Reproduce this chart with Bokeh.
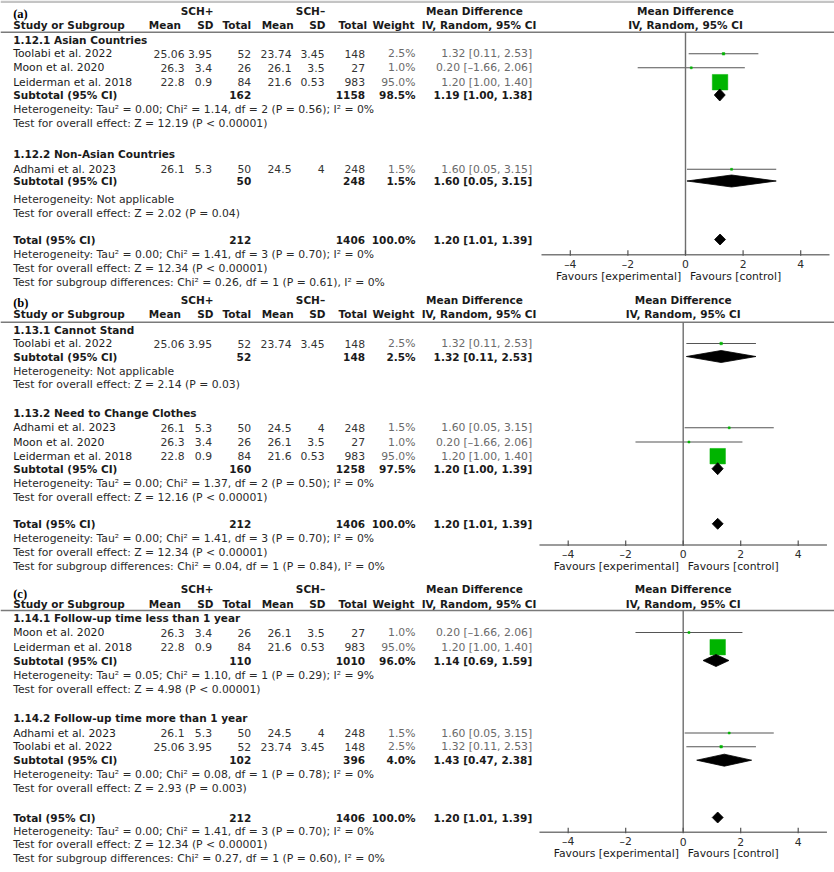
from math import sqrt
from bokeh.plotting import figure
from bokeh.models import Range1d, ColumnDataSource
from bokeh.core.properties import value
from bokeh.embed import file_html
from bokeh.resources import INLINE

# ---------------- data ----------------
study_names = ["Toolabi et al. 2022", "Moon et al. 2020", "Leiderman et al. 2018", "Adhami et al. 2023"]
mean_pos = [25.06, 26.3, 22.8, 26.1]
sd_pos = [3.95, 3.4, 0.9, 5.3]
n_pos = [52, 26, 84, 50]
mean_neg = [23.74, 26.1, 21.6, 24.5]
sd_neg = [3.45, 3.5, 0.53, 4]
n_neg = [148, 27, 983, 248]
weight = [2.5, 1.0, 95.0, 1.5]
md = [1.32, 0.20, 1.20, 1.60]
ci_lo = [0.11, -1.66, 1.00, 0.05]
ci_hi = [2.53, 2.06, 1.40, 3.15]

total_n_pos = 212
total_n_neg = 1406
total_weight = 100.0
total_md, total_lo, total_hi = 1.20, 1.01, 1.39
total_het = "Heterogeneity: Tau² = 0.00; Chi² = 1.41, df = 3 (P = 0.70); I² = 0%"
total_z = "Test for overall effect: Z = 12.34 (P < 0.00001)"

axis_ticks = [-4, -2, 0, 2, 4]
axis_span = [-5, 5]

a_titles = ["1.12.1 Asian Countries", "1.12.2 Non-Asian Countries"]
a_members = [[0, 1, 2], [3]]
a_sub_n_pos = [162, 50]
a_sub_n_neg = [1158, 248]
a_sub_weight = [98.5, 1.5]
a_sub_md = [1.19, 1.60]
a_sub_lo = [1.00, 0.05]
a_sub_hi = [1.38, 3.15]
a_sub_het = ["Heterogeneity: Tau² = 0.00; Chi² = 1.14, df = 2 (P = 0.56); I² = 0%",
             "Heterogeneity: Not applicable"]
a_sub_z = ["Test for overall effect: Z = 12.19 (P < 0.00001)",
           "Test for overall effect: Z = 2.02 (P = 0.04)"]
a_diff = "Test for subgroup differences: Chi² = 0.26, df = 1 (P = 0.61), I² = 0%"

b_titles = ["1.13.1 Cannot Stand", "1.13.2 Need to Change Clothes"]
b_members = [[0], [3, 1, 2]]
b_sub_n_pos = [52, 160]
b_sub_n_neg = [148, 1258]
b_sub_weight = [2.5, 97.5]
b_sub_md = [1.32, 1.20]
b_sub_lo = [0.11, 1.00]
b_sub_hi = [2.53, 1.39]
b_sub_het = ["Heterogeneity: Not applicable",
             "Heterogeneity: Tau² = 0.00; Chi² = 1.37, df = 2 (P = 0.50); I² = 0%"]
b_sub_z = ["Test for overall effect: Z = 2.14 (P = 0.03)",
           "Test for overall effect: Z = 12.16 (P < 0.00001)"]
b_diff = "Test for subgroup differences: Chi² = 0.04, df = 1 (P = 0.84), I² = 0%"

c_titles = ["1.14.1 Follow-up time less than 1 year", "1.14.2 Follow-up time more than 1 year"]
c_members = [[1, 2], [3, 0]]
c_sub_n_pos = [110, 102]
c_sub_n_neg = [1010, 396]
c_sub_weight = [96.0, 4.0]
c_sub_md = [1.14, 1.43]
c_sub_lo = [0.69, 0.47]
c_sub_hi = [1.59, 2.38]
c_sub_het = ["Heterogeneity: Tau² = 0.05; Chi² = 1.10, df = 1 (P = 0.29); I² = 9%",
             "Heterogeneity: Tau² = 0.00; Chi² = 0.08, df = 1 (P = 0.78); I² = 0%"]
c_sub_z = ["Test for overall effect: Z = 4.98 (P < 0.00001)",
           "Test for overall effect: Z = 2.93 (P = 0.003)"]
c_diff = "Test for subgroup differences: Chi² = 0.27, df = 1 (P = 0.60), I² = 0%"

# ---------------- layout (pixel space) ----------------
FONT = "DejaVu Sans"
FS = "10.8px"
FSB = "10.5px"
X_NAME = 12.7
X_MEAN1, X_SD1, X_N1 = 184, 211.5, 250.7
X_MEAN2, X_SD2, X_N2 = 291, 324, 364.5
X_W, X_CI = 415, 531.7
H_MEAN1, H_SD1, H_N1, H_MEAN2, H_SD2, H_N2, H_W = 180.5, 213, 250.7, 293.3, 325, 366.7, 414
X_SCHP, X_SCHN, X_MDHEAD, X_CIHEAD = 196.7, 310, 474, 478.5

layouts = [
    dict(label="(a)", rng="md_a", title_y=13, h1=10.5, h2=24, rule=31.7,
         groups=[dict(hdr=39.3, rows=[53.3, 67.3, 81.7], sub=94.5, het=109, z=123.3),
                 dict(hdr=153.3, rows=[168.8], sub=180.5, het=198.7, z=212.7)],
         total=239, het=254.3, z=268.3, diff=282.3, axis=254.3),
    dict(label="(b)", rng="md_bc", title_y=302.7, h1=299.5, h2=313.8, rule=321.7,
         groups=[dict(hdr=329, rows=[343], sub=356, het=371, z=384.3),
                 dict(hdr=412.7, rows=[427.3, 441.5, 455.7], sub=468.2, het=483, z=497)],
         total=523.3, het=538.3, z=552, diff=566, axis=544.5),
    dict(label="(c)", rng="md_bc", title_y=593.3, h1=588, h2=603.3, rule=610,
         groups=[dict(hdr=617.3, rows=[632, 646.7], sub=660, het=675, z=689),
                 dict(hdr=717.3, rows=[732.5, 746.2], sub=759.7, het=774.3, z=788.3)],
         total=817, het=831, z=844.3, diff=858.3, axis=831.7),
]
panels = [
    (a_titles, a_members, a_sub_n_pos, a_sub_n_neg, a_sub_weight, a_sub_md, a_sub_lo, a_sub_hi, a_sub_het, a_sub_z, a_diff),
    (b_titles, b_members, b_sub_n_pos, b_sub_n_neg, b_sub_weight, b_sub_md, b_sub_lo, b_sub_hi, b_sub_het, b_sub_z, b_diff),
    (c_titles, c_members, c_sub_n_pos, c_sub_n_neg, c_sub_weight, c_sub_md, c_sub_lo, c_sub_hi, c_sub_het, c_sub_z, c_diff),
]

W, H = 834, 872
p = figure(width=W, height=H, output_backend="svg", toolbar_location=None,
           x_range=Range1d(0, W), y_range=Range1d(H, 0),
           x_axis_type=None, y_axis_type=None, min_border=0)
p.extra_x_ranges = {
    "md_a": Range1d((0 - 685.0) / 28.8, (W - 685.0) / 28.8),
    "md_bc": Range1d((0 - 682.7) / 28.75, (W - 682.7) / 28.75),
}
p.grid.visible = False
p.outline_line_color = None
p.background_fill_color = "white"
p.border_fill_color = "white"

# thin grey strip at the very top of the page
p.quad(left=[0], right=[W], top=[0], bottom=[2.6], fill_color="#c4c4c4", line_color=None)

texts = {}


def add_text(x, y, s, align="left", bold=False, color="#1a1a1a", rng="default", font=FONT, size=None):
    if size is None:
        size = FSB if bold else FS
    key = (rng, align, bold, color, font, size)
    d = texts.setdefault(key, {"x": [], "y": [], "text": []})
    d["x"].append(x)
    d["y"].append(y)
    d["text"].append(s)


def num(v):
    return f"{v:g}"


def ci_text(m, lo, hi):
    return f"{m:.2f} [{lo:.2f}, {hi:.2f}]".replace("-", "–")


segs = {}


def add_seg(rng, x0, y0, x1, y1, color, w):
    key = (rng, color, w)
    d = segs.setdefault(key, {"x0": [], "y0": [], "x1": [], "y1": []})
    d["x0"].append(x0); d["y0"].append(y0); d["x1"].append(x1); d["y1"].append(y1)


sq = {"rng": [], "x": [], "y": [], "size": []}
dia = {}

for L, P in zip(layouts, panels):
    titles, members, sn1, sn2, sw, smd, slo, shi, shet, sz, sdiff = P
    rng = L["rng"]
    # headers
    add_text(X_NAME, L["title_y"], L["label"], bold=True, color="black", font="Liberation Serif", size="12.5px")
    add_text(X_SCHP, L["h1"], "SCH+", align="center", bold=True)
    add_text(X_SCHN, L["h1"], "SCH–", align="center", bold=True)
    add_text(X_MDHEAD, L["h1"], "Mean Difference", align="center", bold=True)
    add_text(0, L["h1"], "Mean Difference", align="center", bold=True, rng=rng)
    add_text(X_NAME, L["h2"], "Study or Subgroup", bold=True)
    for xh, t in zip([H_MEAN1, H_SD1, H_N1, H_MEAN2, H_SD2, H_N2, H_W],
                     ["Mean", "SD", "Total", "Mean", "SD", "Total", "Weight"]):
        add_text(xh, L["h2"], t, align="right", bold=True)
    add_text(X_CIHEAD, L["h2"], "IV, Random, 95% CI", align="center", bold=True)
    add_text(0, L["h2"], "IV, Random, 95% CI", align="center", bold=True, rng=rng)
    add_seg("default", 0, L["rule"], W, L["rule"], "#7a7a7a", 1.5)

    for gi, G in enumerate(L["groups"]):
        add_text(X_NAME, G["hdr"], titles[gi], bold=True)
        for si, y in zip(members[gi], G["rows"]):
            add_text(X_NAME, y, study_names[si], color="#1a1a1a")
            add_text(X_MEAN1, y, num(mean_pos[si]), align="right", color="#333333")
            add_text(X_SD1, y, num(sd_pos[si]), align="right", color="#333333")
            add_text(X_N1, y, num(n_pos[si]), align="right", color="#333333")
            add_text(X_MEAN2, y, num(mean_neg[si]), align="right", color="#333333")
            add_text(X_SD2, y, num(sd_neg[si]), align="right", color="#333333")
            add_text(X_N2, y, num(n_neg[si]), align="right", color="#333333")
            add_text(X_W, y, f"{weight[si]:.1f}%", align="right", color="#6a6a6a")
            add_text(X_CI, y, ci_text(md[si], ci_lo[si], ci_hi[si]), align="right", color="#6a6a6a")
            add_seg(rng, ci_lo[si], y, ci_hi[si], y, "#555555", 1.1)
            sq["rng"].append(rng); sq["x"].append(md[si]); sq["y"].append(y)
            sq["size"].append(max(2.0, 15.5 * sqrt(weight[si] / 95.0)))
        ys = G["sub"]
        add_text(X_NAME, ys, "Subtotal (95% CI)", bold=True)
        add_text(X_N1, ys, num(sn1[gi]), align="right", bold=True)
        add_text(X_N2, ys, num(sn2[gi]), align="right", bold=True)
        add_text(X_W, ys, f"{sw[gi]:.1f}%", align="right", bold=True)
        add_text(X_CI, ys, ci_text(smd[gi], slo[gi], shi[gi]), align="right", bold=True)
        d = dia.setdefault(rng, {"xs": [], "ys": []})
        d["xs"].append([slo[gi], smd[gi], shi[gi], smd[gi]])
        d["ys"].append([ys, ys - 6.0, ys, ys + 6.0])
        add_text(X_NAME, G["het"], shet[gi], color="#2a2a2a")
        add_text(X_NAME, G["z"], sz[gi], color="#2a2a2a")

    yt = L["total"]
    add_text(X_NAME, yt, "Total (95% CI)", bold=True)
    add_text(X_N1, yt, num(total_n_pos), align="right", bold=True)
    add_text(X_N2, yt, num(total_n_neg), align="right", bold=True)
    add_text(X_W, yt, f"{total_weight:.1f}%", align="right", bold=True)
    add_text(X_CI, yt, ci_text(total_md, total_lo, total_hi), align="right", bold=True)
    d = dia.setdefault(rng, {"xs": [], "ys": []})
    d["xs"].append([total_lo, total_md, total_hi, total_md])
    d["ys"].append([yt, yt - 5.5, yt, yt + 5.5])
    add_text(X_NAME, L["het"], total_het, color="#2a2a2a")
    add_text(X_NAME, L["z"], total_z, color="#2a2a2a")
    add_text(X_NAME, L["diff"], sdiff, color="#2a2a2a")

    # forest axis
    ya = L["axis"]
    add_seg(rng, 0, L["rule"], 0, ya, "#6e6e6e", 1.4)
    add_seg(rng, axis_span[0], ya, axis_span[1], ya, "#7a7a7a", 1.5)
    for t in axis_ticks:
        add_seg(rng, t, ya - 4.5, t, ya + 1.0, "#555555", 1.2)
        add_text(t, ya + 9.3, f"{t:g}".replace("-", "–"), align="center", color="#2a2a2a", rng=rng)
    add_text(-0.15, ya + 21.7, "Favours [experimental]", align="right", color="#1a1a1a", rng=rng)
    add_text(0.16, ya + 21.7, "Favours [control]", align="left", color="#1a1a1a", rng=rng)

for (rng, color, w), d in segs.items():
    kw = {} if rng == "default" else {"x_range_name": rng}
    p.segment(x0="x0", y0="y0", x1="x1", y1="y1", source=ColumnDataSource(d),
              line_color=color, line_width=w, **kw)

for rng in ["md_a", "md_bc"]:
    idx = [i for i, r in enumerate(sq["rng"]) if r == rng]
    src = ColumnDataSource({"x": [sq["x"][i] for i in idx], "y": [sq["y"][i] for i in idx],
                            "size": [sq["size"][i] for i in idx]})
    p.scatter(x="x", y="y", size="size", marker="square", source=src,
              fill_color="#00b400", line_color="#00b400", line_width=0.5, x_range_name=rng)
    p.patches(xs="xs", ys="ys", source=ColumnDataSource(dia[rng]),
              fill_color="black", line_color="black", line_width=0.8, x_range_name=rng)

for (rng, align, bold, color, font, size), d in texts.items():
    kw = {} if rng == "default" else {"x_range_name": rng}
    p.text(x="x", y="y", text="text", source=ColumnDataSource(d),
           text_align=align, text_baseline="middle", text_font=value(font),
           text_font_size=value(size), text_font_style="bold" if bold else "normal",
           text_color=color, **kw)

open("out.html", "w").write(file_html(p, INLINE))
